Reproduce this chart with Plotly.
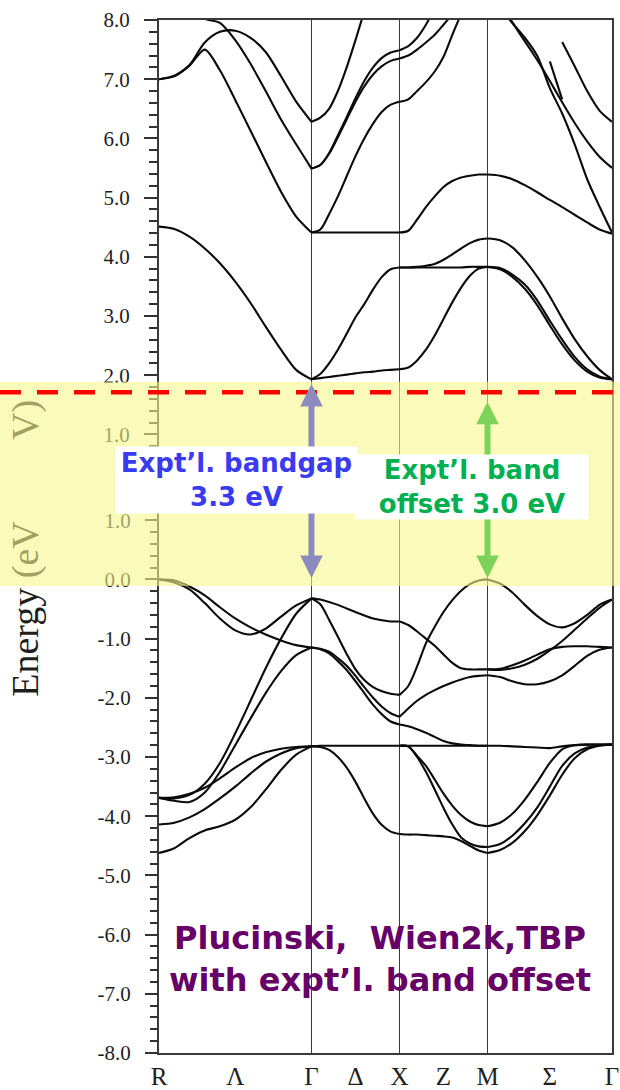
import plotly.graph_objects as go

# ---- k-path (units of 2*pi/a) ----
K_R, K_G, K_X, K_M, K_G2 = 0.0, 0.866, 1.366, 1.866, 2.573
K_TICKS = [0.0, 0.433, 0.866, 1.116, 1.366, 1.616, 1.866, 2.2195, 2.573]
K_LABELS = ["R", "Λ", "Γ", "Δ", "X", "Z", "M", "Σ", "Γ"]

K_RG = [0.000, 0.087, 0.173, 0.260, 0.346, 0.433, 0.520, 0.606, 0.693, 0.779, 0.866]
K_GX = [0.866, 0.916, 0.966, 1.016, 1.066, 1.116, 1.166, 1.216, 1.266, 1.316, 1.366]
K_XM = [1.366, 1.416, 1.466, 1.516, 1.566, 1.616, 1.666, 1.716, 1.766, 1.816, 1.866]
K_MG = [1.866, 1.937, 2.007, 2.078, 2.149, 2.220, 2.290, 2.361, 2.432, 2.502, 2.573]

# ---- conduction bands (upper energy scale, eV) ----
CB_RG = [
    [4.51, 4.47, 4.34, 4.14, 3.89, 3.58, 3.22, 2.82, 2.43, 2.09, 1.93],
    [7.00, 7.05, 7.23, 7.50, 7.15, 6.65, 6.13, 5.61, 5.10, 4.68, 4.41],
    [7.00, 7.06, 7.24, 7.62, 7.80, 7.82, 7.70, 7.46, 7.05, 6.62, 6.28],
    [None, None, 8.20, 8.02, 7.95, 7.66, 7.26, 6.80, 6.32, 5.90, 5.49],
]
CB_GX = [
    [1.93, 2.02, 2.20, 2.43, 2.70, 2.98, 3.20, 3.45, 3.66, 3.79, 3.82],
    [1.93, 1.95, 1.97, 1.99, 2.01, 2.03, 2.05, 2.06, 2.08, 2.09, 2.10],
    [4.41, 4.41, 4.41, 4.41, 4.41, 4.41, 4.41, 4.41, 4.41, 4.41, 4.41],
    [4.41, 4.46, 4.72, 5.02, 5.36, 5.70, 6.00, 6.25, 6.45, 6.57, 6.62],
    [5.49, 5.55, 5.75, 6.05, 6.36, 6.68, 6.97, 7.20, 7.36, 7.45, 7.49],
    [5.49, 5.55, 5.74, 6.02, 6.32, 6.62, 6.88, 7.08, 7.22, 7.31, 7.35],
    [6.28, 6.35, 6.50, 6.80, 7.20, 7.66, 8.15, None, None, None, None],
]
CB_XM = [
    [3.82, 3.82, 3.82, 3.82, 3.82, 3.82, 3.82, 3.82, 3.83, 3.83, 3.83],
    [3.82, 3.82, 3.83, 3.85, 3.88, 3.95, 4.04, 4.14, 4.23, 4.29, 4.31],
    [2.10, 2.13, 2.25, 2.43, 2.67, 2.95, 3.23, 3.48, 3.68, 3.80, 3.83],
    [4.41, 4.44, 4.63, 4.84, 5.02, 5.18, 5.28, 5.34, 5.37, 5.39, 5.39],
    [6.62, 6.66, 6.80, 6.95, 7.13, 7.38, 7.75, 8.10, None, None, None],
    [7.49, 7.56, 7.70, 7.92, 8.20, None, None, None, None, None, None],
    [7.35, 7.40, 7.50, 7.62, 7.75, 7.92, 8.10, None, None, None, None],
]
CB_MG = [
    [5.39, 5.37, 5.31, 5.21, 5.09, 4.96, 4.84, 4.71, 4.58, 4.46, 4.39],
    [None, 8.20, 7.95, 7.70, 7.39, 6.85, 6.42, 5.90, 5.31, 4.85, 4.41],
    [None, 8.30, 7.96, 7.64, 7.32, 6.97, 6.61, 6.26, 5.95, 5.69, 5.50],
    [None, None, None, None, None, None, 7.63, 7.22, 6.80, 6.47, 6.28],
    [None, None, None, None, None, 7.30, 6.66, None, None, None, None],
    [4.31, 4.28, 4.16, 3.94, 3.66, 3.33, 2.96, 2.61, 2.32, 2.09, 1.93],
    [3.83, 3.81, 3.70, 3.53, 3.26, 2.92, 2.60, 2.31, 2.10, 1.98, 1.93],
    [3.83, 3.79, 3.66, 3.46, 3.18, 2.84, 2.52, 2.25, 2.06, 1.96, 1.93],
]

# ---- valence bands (lower energy scale, eV) ----
VB_RG = [
    [0.00, -0.05, -0.17, -0.40, -0.66, -0.86, -0.93, -0.83, -0.63, -0.44, -0.32],
    [0.00, -0.02, -0.12, -0.27, -0.47, -0.66, -0.81, -0.93, -1.03, -1.11, -1.15],
    [-3.69, -3.70, -3.64, -3.45, -3.10, -2.60, -2.05, -1.50, -1.00, -0.58, -0.32],
    [-3.69, -3.74, -3.76, -3.60, -3.25, -2.80, -2.35, -1.92, -1.55, -1.28, -1.15],
    [-3.69, -3.68, -3.62, -3.52, -3.36, -3.18, -3.02, -2.92, -2.86, -2.83, -2.82],
    [-4.14, -4.11, -4.02, -3.88, -3.70, -3.50, -3.28, -3.08, -2.94, -2.85, -2.82],
    [-4.62, -4.54, -4.37, -4.24, -4.17, -4.06, -3.85, -3.55, -3.22, -2.96, -2.82],
]
VB_GX = [
    [-0.32, -0.34, -0.38, -0.43, -0.49, -0.55, -0.61, -0.66, -0.69, -0.71, -0.71],
    [-0.32, -0.42, -0.68, -0.97, -1.26, -1.52, -1.70, -1.82, -1.89, -1.93, -1.95],
    [-1.15, -1.17, -1.22, -1.33, -1.46, -1.63, -1.82, -2.00, -2.15, -2.26, -2.32],
    [-1.15, -1.18, -1.25, -1.38, -1.53, -1.72, -1.92, -2.12, -2.28, -2.40, -2.45],
    [-2.82, -2.81, -2.81, -2.81, -2.81, -2.81, -2.81, -2.81, -2.81, -2.81, -2.81],
    [-2.82, -2.83, -2.88, -3.00, -3.18, -3.42, -3.70, -3.96, -4.15, -4.26, -4.30],
]
VB_XM = [
    [-0.71, -0.77, -0.88, -1.00, -1.12, -1.27, -1.41, -1.50, -1.52, -1.52, -1.52],
    [-1.95, -1.80, -1.47, -1.08, -0.80, -0.55, -0.35, -0.19, -0.08, -0.02, 0.00],
    [-2.32, -2.18, -2.05, -1.95, -1.87, -1.80, -1.74, -1.69, -1.65, -1.63, -1.62],
    [-2.45, -2.48, -2.53, -2.59, -2.66, -2.73, -2.77, -2.79, -2.80, -2.81, -2.81],
    [-2.81, -2.81, -2.81, -2.81, -2.81, -2.81, -2.81, -2.81, -2.81, -2.81, -2.81],
    [-2.81, -2.82, -2.98, -3.15, -3.38, -3.62, -3.82, -3.98, -4.09, -4.15, -4.17],
    [-2.81, -2.82, -3.00, -3.25, -3.55, -3.86, -4.14, -4.36, -4.46, -4.51, -4.52],
    [-4.30, -4.31, -4.31, -4.32, -4.33, -4.34, -4.36, -4.42, -4.50, -4.58, -4.62],
]
VB_MG = [
    [0.00, -0.07, -0.22, -0.43, -0.62, -0.76, -0.81, -0.74, -0.60, -0.43, -0.34],
    [-1.52, -1.53, -1.50, -1.44, -1.34, -1.20, -1.04, -0.85, -0.66, -0.48, -0.34],
    [-1.52, -1.51, -1.45, -1.37, -1.27, -1.18, -1.14, -1.13, -1.13, -1.14, -1.15],
    [-1.62, -1.65, -1.72, -1.77, -1.77, -1.72, -1.62, -1.46, -1.29, -1.19, -1.15],
    [-2.81, -2.81, -2.82, -2.83, -2.84, -2.85, -2.82, -2.80, -2.79, -2.79, -2.79],
    [-4.17, -4.11, -3.96, -3.72, -3.42, -3.10, -2.87, -2.80, -2.79, -2.79, -2.79],
    [-4.52, -4.47, -4.33, -4.12, -3.85, -3.50, -3.15, -2.94, -2.84, -2.80, -2.79],
    [-4.62, -4.57, -4.45, -4.25, -3.98, -3.65, -3.30, -3.02, -2.87, -2.81, -2.79],
]

# ---- energy-axis ticks ----
UPPER_TICKS = [8, 7, 6, 5, 4, 3, 2, 1]
LOWER_TICKS = [1, 0, -1, -2, -3, -4, -5, -6, -7, -8]
UPPER_MINOR = [round(0.8 + 0.2 * i, 1) for i in range(37)]
LOWER_MINOR = [round(-8 + 0.2 * i, 1) for i in range(52)]

# experimental gap / offset markers (lower scale, eV)
BANDGAP = 3.3
BAND_OFFSET = 3.0

fig = go.Figure()

line_style = dict(color="#0a0a0a", width=2.1, shape="spline", smoothing=0.8)

for ks, bands, axis in [
    (K_RG, CB_RG, "y"), (K_GX, CB_GX, "y"), (K_XM, CB_XM, "y"), (K_MG, CB_MG, "y"),
    (K_RG, VB_RG, "y2"), (K_GX, VB_GX, "y2"), (K_XM, VB_XM, "y2"), (K_MG, VB_MG, "y2"),
]:
    for e in bands:
        fig.add_trace(go.Scatter(x=ks, y=e, mode="lines", line=line_style,
                                 yaxis=axis, hoverinfo="skip", showlegend=False))

tick_font = dict(family="Liberation Serif", size=21, color="#1e1e1e")
frame = "#3a3a3a"

fig.update_layout(
    width=620, height=1090,
    margin=dict(l=159, r=8, t=20, b=37, autoexpand=False),
    paper_bgcolor="white", plot_bgcolor="white",
    showlegend=False, hovermode=False,
    xaxis=dict(
        range=[K_R, K_G2], tickmode="array", tickvals=K_TICKS, ticktext=K_LABELS,
        ticks="", showgrid=False, zeroline=False, automargin=False,
        showline=True, linecolor=frame, linewidth=2, mirror=True,
        tickfont=dict(family="Liberation Serif", size=25, color="#1e1e1e"),
        minor=dict(tickmode="array", tickvals=[K_G, K_X, K_M], showgrid=True,
                   gridcolor=frame, gridwidth=1.3, ticks=""),
    ),
    yaxis=dict(
        range=[-9.45, 8], tickmode="array", tickvals=UPPER_TICKS,
        ticktext=[f"{v:.1f}" for v in UPPER_TICKS],
        ticks="outside", ticklen=13, tickwidth=2, tickcolor="#333333",
        minor=dict(tickmode="array", tickvals=UPPER_MINOR, ticks="outside",
                   ticklen=8, tickwidth=1.6, tickcolor="#333333"),
        showgrid=False, zeroline=False, automargin=False,
        showline=True, linecolor=frame, linewidth=2, mirror=True,
        tickfont=tick_font, ticklabelstandoff=10,
    ),
    yaxis2=dict(
        overlaying="y", side="left", anchor="x", automargin=False,
        range=[-8, 9.45], tickmode="array", tickvals=LOWER_TICKS,
        ticktext=[f"{v:.1f}" for v in LOWER_TICKS],
        ticks="outside", ticklen=13, tickwidth=2, tickcolor="#333333",
        minor=dict(tickmode="array", tickvals=LOWER_MINOR, ticks="outside",
                   ticklen=8, tickwidth=1.6, tickcolor="#333333"),
        showgrid=False, zeroline=False, showline=False,
        tickfont=tick_font, ticklabelstandoff=10,
    ),
)

# translucent highlight of the experimental gap, and the dashed conduction-band edge
fig.add_shape(type="rect", xref="paper", x0=-0.36, x1=1.03, yref="y2",
              y0=-0.11, y1=BANDGAP + 0.04, fillcolor="rgba(246,246,140,0.6)",
              line=dict(width=0), layer="above")
fig.add_shape(type="line", xref="paper", x0=-0.351, x1=1.018, yref="y2",
              y0=3.16, y1=3.16, line=dict(color="#ff0000", width=4.5, dash="21px,16px"),
              layer="above")

# double-headed arrows for gap and offset
for kx, top, col in [(K_G, BANDGAP, "#8b8bbd"), (K_M, BAND_OFFSET, "#7dd35a")]:
    fig.add_annotation(x=kx, y=top, xref="x", yref="y2", ax=kx, ay=0.0,
                       axref="x", ayref="y2", text="", showarrow=True,
                       arrowside="end+start", arrowhead=2, startarrowhead=2,
                       arrowsize=0.75, startarrowsize=0.75, arrowwidth=6,
                       arrowcolor=col, standoff=0, startstandoff=0,
                       font=dict(size=1))

label_font = dict(family="DejaVu Sans", size=26, weight="bold")
fig.add_annotation(text="Expt’l. bandgap<br>3.3 eV", xref="paper", yref="paper",
                   x=0.1711, y=0.5545, xanchor="center", yanchor="middle",
                   showarrow=False, bgcolor="white", borderpad=0, width=241, height=66,
                   font=dict(label_font, color="#3a3af0"))
fig.add_annotation(text="Expt’l. band<br>offset 3.0 eV", xref="paper", yref="paper",
                   x=0.691, y=0.5480, xanchor="center", yanchor="middle",
                   showarrow=False, bgcolor="white", borderpad=0, width=232, height=64,
                   font=dict(label_font, color="#00b050"))
fig.add_annotation(text="Plucinski,\u00a0\u00a0Wien2k,TBP<br>with expt’l. band offset",
                   xref="paper", yref="paper", x=0.488, y=0.091,
                   xanchor="center", yanchor="middle", showarrow=False,
                   font=dict(family="DejaVu Sans", size=32, weight="bold", color="#660066"))

# axis title (partly under the highlight band)
fig.add_annotation(text="Energy <span style='color:#a1a162'>(eV</span>",
                   xref="paper", yref="paper", x=-0.2936, y=0.4300,
                   xanchor="center", yanchor="middle", textangle=-90, showarrow=False,
                   font=dict(family="Liberation Serif", size=38, color="#1e1e1e"))
fig.add_annotation(text="V)", xref="paper", yref="paper", x=-0.2936, y=0.6128,
                   xanchor="center", yanchor="middle", textangle=-90, showarrow=False,
                   font=dict(family="Liberation Serif", size=38, color="#a1a162"))

fig.write_html("out.html")
